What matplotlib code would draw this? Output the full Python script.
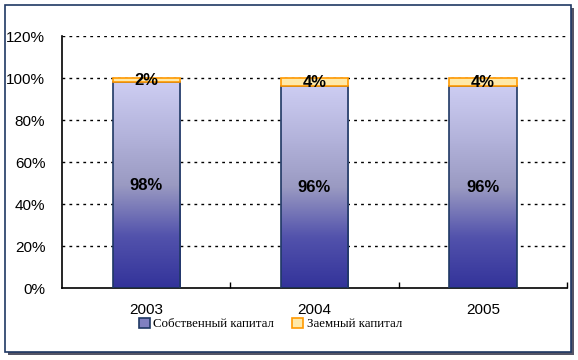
import matplotlib
matplotlib.use("Agg")
import matplotlib.pyplot as plt
import numpy as np
from matplotlib.colors import LinearSegmentedColormap
from matplotlib.patches import Rectangle

# data
years = ["2003", "2004", "2005"]
own = [98, 96, 96]        # Собственный капитал, %
borrowed = [2, 4, 4]      # Заемный капитал, %
yticks = [0, 20, 40, 60, 80, 100, 120]

W, H = 578, 360
fig = plt.figure(figsize=(W / 100, H / 100), dpi=100)
fig.patch.set_facecolor("white")

# outer frame with shadow
fig.add_artist(Rectangle((8 / W, 5 / H), 566 / W, 347 / H, transform=fig.transFigure,
                         facecolor="#555566", edgecolor="none", zorder=0))
fig.add_artist(Rectangle((5 / W, 8 / H), 566 / W, 347 / H, transform=fig.transFigure,
                         facecolor="white", edgecolor="#1F3864", lw=1.2, zorder=0.5))

ax = fig.add_axes([62 / W, 72 / H, 505 / W, 252 / H])
ax.set_facecolor("none")
ax.set_zorder(1)

x = np.arange(len(years))
bw = 0.4
blue_cmap = LinearSegmentedColormap.from_list(
    "own", ["#33339a", "#5252ac", "#9a9ac2", "#b4b4dc", "#cdcdf2"])
grad = np.linspace(0, 1, 256).reshape(-1, 1)

own_bars = ax.bar(x, [v / 100 for v in own], bw, facecolor="none",
                  edgecolor="#1F3864", lw=1.2, zorder=3, label="Собственный капитал")
for b in own_bars:
    x0, y0, w, h = b.get_x(), b.get_y(), b.get_width(), b.get_height()
    im = ax.imshow(grad, cmap=blue_cmap, origin="lower", aspect="auto",
                   extent=(x0, x0 + w, y0, y0 + h), zorder=2, interpolation="bicubic")
    im.set_clip_path(b)

bor_bars = ax.bar(x, [v / 100 for v in borrowed], bw, bottom=[v / 100 for v in own],
                  facecolor="#FFE9A8", edgecolor="#FF9900", lw=1.2, zorder=3,
                  label="Заемный капитал")

# value labels
for i in range(len(years)):
    ax.text(x[i], own[i] / 200, f"{own[i]}%", ha="center", va="center",
            fontsize=12, fontweight="bold", family="Liberation Sans", zorder=5)
    ax.text(x[i], (own[i] + borrowed[i] / 2) / 100 - 0.002, f"{borrowed[i]}%",
            ha="center", va="center", fontsize=12, fontweight="bold",
            family="Liberation Sans", zorder=5)

ax.set_xlim(-0.5, 2.5)
ax.set_ylim(0, 1.2)
ax.set_yticks([t / 100 for t in yticks])
ax.set_yticklabels([f"{t}%" for t in yticks], family="Liberation Sans", fontsize=11)
ax.tick_params(axis="y", length=0, pad=12)
ax.set_xticks(x)
ax.set_xticklabels(years, family="Liberation Sans", fontsize=11)
ax.tick_params(axis="x", length=0, pad=11)
ax.set_xticks([0.5, 1.5, 2.5], minor=True)
ax.tick_params(axis="x", which="minor", direction="in", length=4, width=1)

for t in yticks[1:]:
    ax.axhline(t / 100, color="black", lw=1, ls=(0, (2, 3)), zorder=1)
ax.spines["top"].set_visible(False)
ax.spines["right"].set_visible(False)
ax.spines["left"].set_linewidth(1.2)
ax.spines["bottom"].set_linewidth(1.2)

leg = fig.legend(handles=[own_bars, bor_bars], loc="center", ncol=2,
                 bbox_to_anchor=(0.468, 0.1), frameon=False,
                 prop={"family": "Liberation Serif", "size": 9.3},
                 handlelength=0.8, handleheight=0.8, handletextpad=0.3,
                 columnspacing=1.4)
leg.legend_handles[0].set_facecolor("#8080c0")

fig.savefig("out.png", dpi=100)
